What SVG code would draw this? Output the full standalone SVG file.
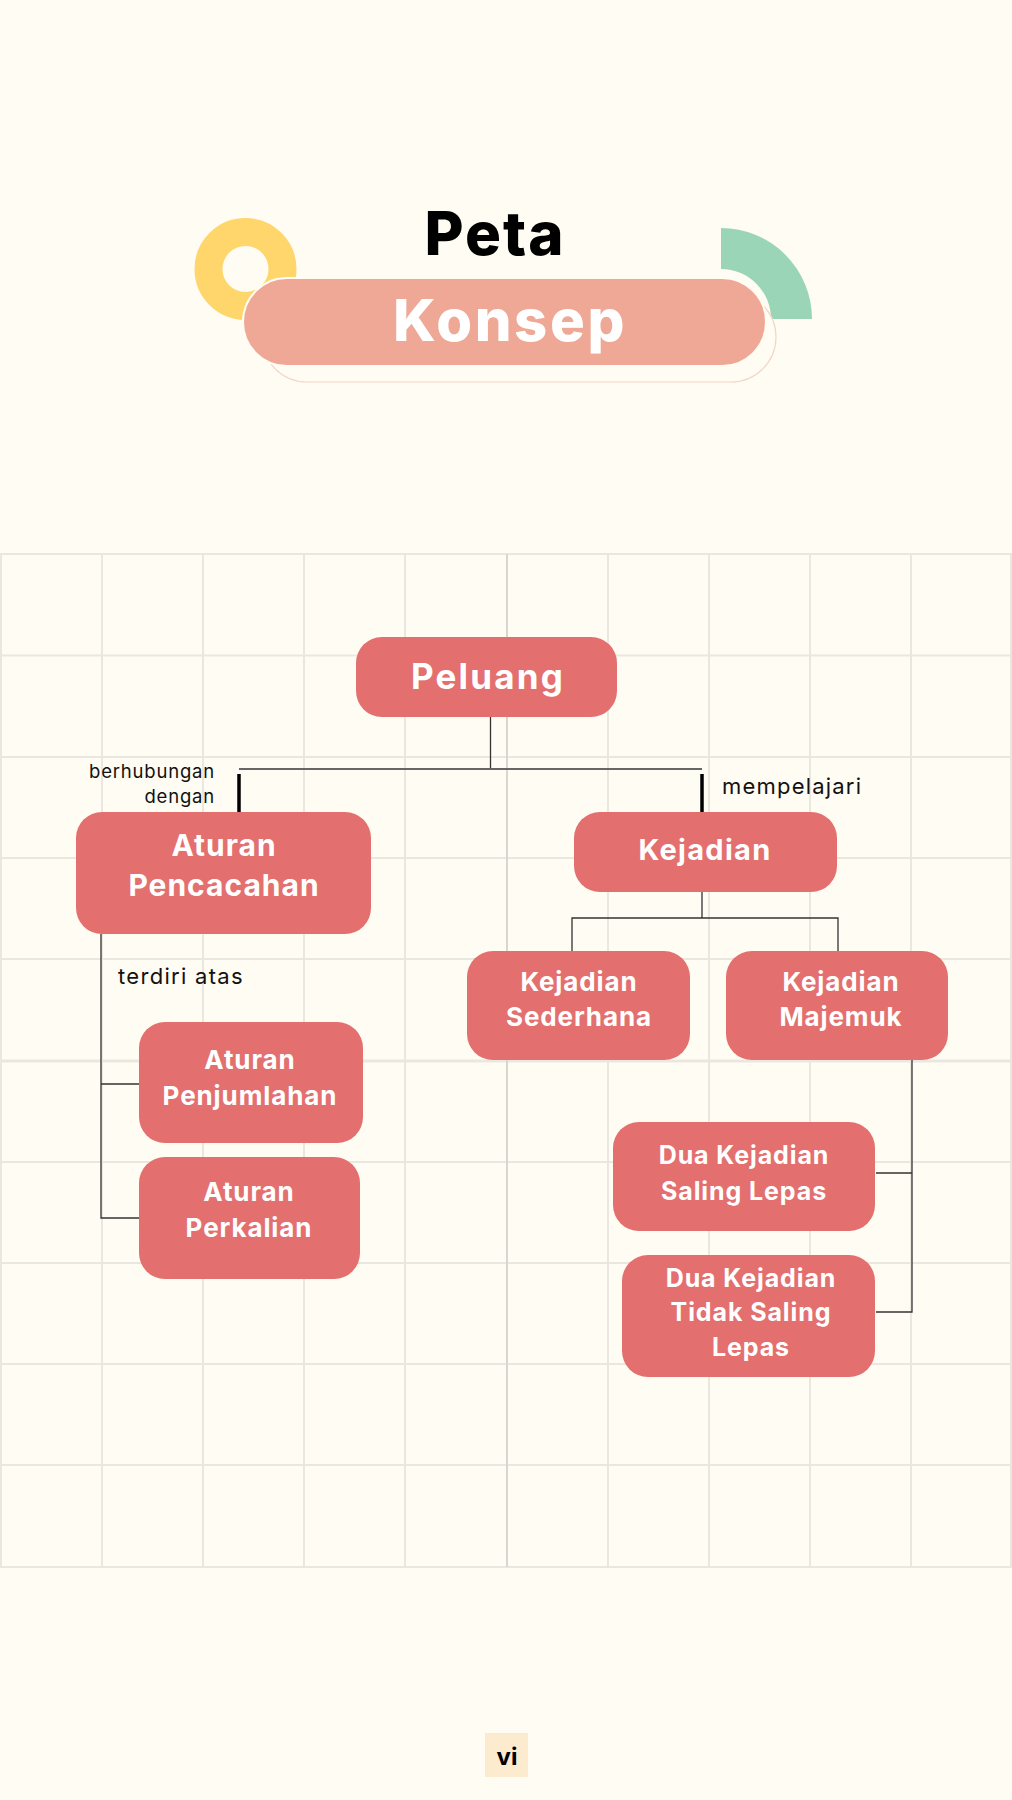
<svg xmlns="http://www.w3.org/2000/svg" width="1012" height="1800" viewBox="0 0 1012 1800">
<style>
.grid line{stroke:#EAE7E0;stroke-width:2}
.node rect{fill:#E36F6F}
.node text{fill:#FFFFFF;font-family:Inter,"Open Sans","Liberation Sans",sans-serif;font-weight:700;text-anchor:middle}
.lbl{fill:#111;font-family:Inter,"Open Sans","Liberation Sans",sans-serif;font-weight:400}
.thin{stroke:#333;stroke-width:1.3;fill:none}
.thick{stroke:#000;stroke-width:3.5;fill:none}
</style>
<rect x="0" y="0" width="1012" height="1800" fill="#FFFCF3"/>
<g id="header">
  <circle cx="245.5" cy="269" r="37" fill="none" stroke="#FFD66B" stroke-width="28"/>
  <path d="M721 228 A91 91 0 0 1 812 319 L771 319 A50 50 0 0 0 721 269 Z" fill="#9AD5B7"/>
  <rect x="262" y="292" width="514" height="90" rx="45" fill="#FFFCF3" stroke="#F5D3C6" stroke-width="1.2"/>
  <rect x="243" y="278" width="523" height="88" rx="44" fill="#EFA896" stroke="#FFFCF3" stroke-width="2"/>
  <text x="495" y="255" font-family="Inter,'Open Sans','Liberation Sans',sans-serif" font-weight="800" font-size="60" letter-spacing="2" text-anchor="middle" fill="#000">Peta</text>
  <text x="510" y="341" font-family="Inter,'Open Sans','Liberation Sans',sans-serif" font-weight="800" font-size="58" letter-spacing="2.6" text-anchor="middle" fill="#FFFFFF">Konsep</text>
</g>
<g class="grid">
  <line x1="1" y1="554" x2="1" y2="1567"/>
  <line x1="102" y1="554" x2="102" y2="1567"/>
  <line x1="203" y1="554" x2="203" y2="1567"/>
  <line x1="304" y1="554" x2="304" y2="1567"/>
  <line x1="405" y1="554" x2="405" y2="1567"/>
  <line x1="608" y1="554" x2="608" y2="1567"/>
  <line x1="709" y1="554" x2="709" y2="1567"/>
  <line x1="810" y1="554" x2="810" y2="1567"/>
  <line x1="911" y1="554" x2="911" y2="1567"/>
  <line x1="1011" y1="554" x2="1011" y2="1567"/>
  <line x1="0" y1="554" x2="1012" y2="554"/>
  <line x1="0" y1="655.5" x2="1012" y2="655.5"/>
  <line x1="0" y1="757" x2="1012" y2="757"/>
  <line x1="0" y1="858" x2="1012" y2="858"/>
  <line x1="0" y1="959" x2="1012" y2="959"/>
  <line x1="0" y1="1061" x2="1012" y2="1061" style="stroke-width:3"/>
  <line x1="0" y1="1162" x2="1012" y2="1162"/>
  <line x1="0" y1="1263" x2="1012" y2="1263"/>
  <line x1="0" y1="1364" x2="1012" y2="1364"/>
  <line x1="0" y1="1465" x2="1012" y2="1465"/>
  <line x1="0" y1="1567" x2="1012" y2="1567"/>
  <line x1="507" y1="554" x2="507" y2="1567" style="stroke:#D8D6D0"/>
</g>
<g id="connectors">
  <path class="thin" d="M490.5 717 V769"/>
  <path d="M239 769 H702" stroke="#666" stroke-width="2" fill="none"/>
  <path class="thick" d="M239 774 V812"/>
  <path class="thick" d="M702 774 V812"/>
  <path class="thin" d="M702 892 V918 M572 951 V918 H838 V951"/>
  <path class="thin" d="M101 934 V1218 H139 M101 1084 H139"/>
  <path class="thin" d="M912 1060 V1312 H876 M876 1173 H912"/>
  <text class="lbl" x="215" y="778" font-size="18.5" letter-spacing="0.8" text-anchor="end">berhubungan</text>
  <text class="lbl" x="215" y="803" font-size="18.5" letter-spacing="0.8" text-anchor="end">dengan</text>
  <text class="lbl" x="722" y="794" font-size="22" letter-spacing="1.2">mempelajari</text>
  <text class="lbl" x="118" y="984" font-size="22" letter-spacing="1.3">terdiri atas</text>
</g>
<g id="peluang" class="node">
  <rect x="356" y="637" width="261" height="80" rx="26"/>
  <text x="488" y="689" font-size="35" letter-spacing="2.2">Peluang</text>
</g>
<g id="aturan-pencacahan" class="node">
  <rect x="76" y="812" width="295" height="122" rx="26"/>
  <text x="224" y="856" font-size="30" letter-spacing="1">Aturan</text>
  <text x="224" y="896" font-size="30" letter-spacing="1">Pencacahan</text>
</g>
<g id="kejadian" class="node">
  <rect x="574" y="812" width="263" height="80" rx="26"/>
  <text x="705" y="860" font-size="29" letter-spacing="1.3">Kejadian</text>
</g>
<g id="kejadian-sederhana" class="node">
  <rect x="467" y="951" width="223" height="109" rx="26"/>
  <text x="579" y="991" font-size="26" letter-spacing="0.9">Kejadian</text>
  <text x="579" y="1026" font-size="26" letter-spacing="0.9">Sederhana</text>
</g>
<g id="kejadian-majemuk" class="node">
  <rect x="726" y="951" width="222" height="109" rx="26"/>
  <text x="841" y="991" font-size="26" letter-spacing="0.9">Kejadian</text>
  <text x="841" y="1026" font-size="26" letter-spacing="0.9">Majemuk</text>
</g>
<g id="aturan-penjumlahan" class="node">
  <rect x="139" y="1022" width="224" height="121" rx="26"/>
  <text x="250" y="1069" font-size="26" letter-spacing="0.9">Aturan</text>
  <text x="250" y="1105" font-size="26" letter-spacing="0.9">Penjumlahan</text>
</g>
<g id="aturan-perkalian" class="node">
  <rect x="139" y="1157" width="221" height="122" rx="26"/>
  <text x="249" y="1201" font-size="26" letter-spacing="0.9">Aturan</text>
  <text x="249" y="1237" font-size="26" letter-spacing="0.9">Perkalian</text>
</g>
<g id="dua-kejadian-saling-lepas" class="node">
  <rect x="613" y="1122" width="262" height="109" rx="26"/>
  <text x="744" y="1164" font-size="25" letter-spacing="0.9">Dua Kejadian</text>
  <text x="744" y="1200" font-size="25" letter-spacing="0.9">Saling Lepas</text>
</g>
<g id="dua-kejadian-tidak-saling-lepas" class="node">
  <rect x="622" y="1255" width="253" height="122" rx="26"/>
  <text x="751" y="1287" font-size="25" letter-spacing="0.9">Dua Kejadian</text>
  <text x="751" y="1321" font-size="25" letter-spacing="0.9">Tidak Saling</text>
  <text x="751" y="1356" font-size="25" letter-spacing="0.9">Lepas</text>
</g>
<g id="page-number">
  <rect x="485" y="1733" width="43" height="44" fill="#FDEBCF"/>
  <text x="507" y="1765" font-family="Inter,'Open Sans','Liberation Sans',sans-serif" font-weight="700" font-size="24" text-anchor="middle" fill="#000">vi</text>
</g>
</svg>
